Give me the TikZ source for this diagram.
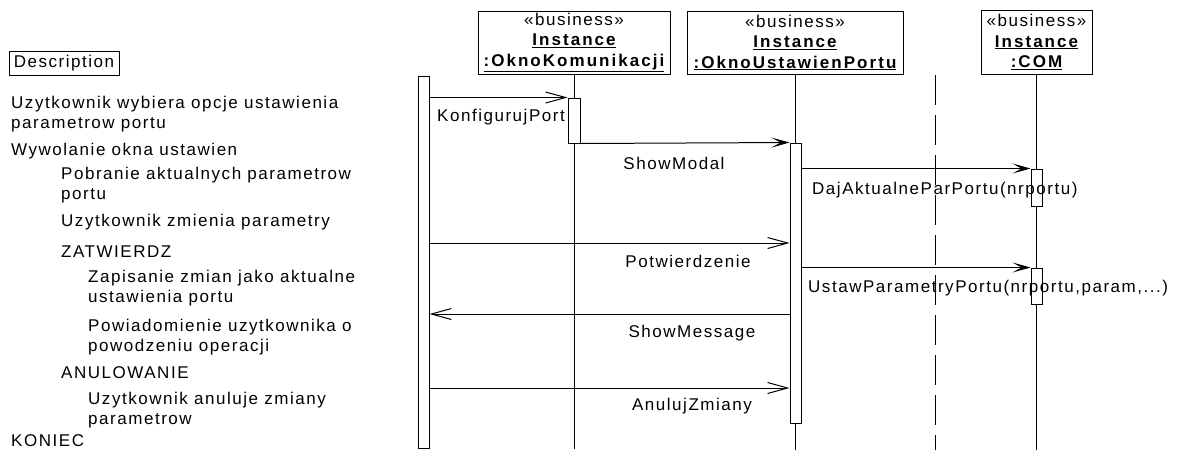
\documentclass[tikz,border=0pt]{standalone}
\usepackage{fontspec}
\setmainfont[LetterSpace=9]{Liberation Sans}
\usetikzlibrary{arrows.meta}
\newcommand{\objname}[1]{{\addfontfeature{LetterSpace=12}\textbf{\underline{#1}}}}

\begin{document}
\begin{tikzpicture}[x=1pt,y=-1pt,
			every node/.style={font=\fontsize{17}{20.5}\selectfont},
			obj/.style={draw,line width=1pt,align=center,inner sep=0pt,minimum height=63pt},
			txt/.style={anchor=west,align=left,inner sep=0pt},
			act/.style={draw,fill=white,line width=1pt,minimum width=11pt,inner sep=0pt},
			life/.style={line width=1pt},
			call/.style={line width=1pt,-{Stealth[length=18pt,width=10pt,inset=9pt]}},
			msg/.style={line width=1pt,-{Straight Barb[length=20pt,width=11pt]}},
			lbl/.style={inner sep=0pt}
			]
			\useasboundingbox (0,0) rectangle (1184,451);
			% description column
			\node[draw,line width=0.8pt,minimum width=110pt,minimum height=24pt,inner sep=0pt] (desc) at (64,63) {Description};
			\node[txt] (t1) at (11,114) {Uzytkownik wybiera opcje ustawienia\\parametrow portu};
			\node[txt] (t2) at (11,151) {Wywolanie okna ustawien};
			\node[txt] (t3) at (61,185) {Pobranie aktualnych parametrow\\portu};
			\node[txt] (t4) at (61,222) {Uzytkownik zmienia parametry};
			\node[txt] (t5) at (61,252) {ZATWIERDZ};
			\node[txt] (t6) at (88,288) {Zapisanie zmian jako aktualne\\ustawienia portu};
			\node[txt] (t7) at (88,337) {Powiadomienie uzytkownika o\\powodzeniu operacji};
			\node[txt] (t8) at (61,373) {ANULOWANIE};
			\node[txt] (t9) at (88,410) {Uzytkownik anuluje zmiany\\parametrow};
			\node[txt] (t10) at (11,441) {KONIEC};
			% objects
			\node[obj,minimum width=192pt] (kom) at (574,42.5) {«business»\\\objname{Instance}\\\objname{:OknoKomunikacji}};
			\node[obj,minimum width=216pt] (ust) at (795,42.5) {«business»\\\objname{Instance}\\\objname{:OknoUstawienPortu}};
			\node[obj,minimum width=111pt,minimum height=64pt] (com) at (1036.5,42) {«business»\\\objname{Instance}\\\objname{:COM}};
			% lifelines
			\draw[life] (kom.south) -- (kom.south |- 0,449);
			\draw[life] (ust.south) -- (ust.south |- 0,450);
			\draw[life] (com.south) -- (com.south |- 0,450);
			\coordinate (septop) at (935,75);
			\coordinate (sepbot) at (935,450);
			\draw[life,dash pattern=on 30pt off 10pt] (septop) -- (sepbot);
			% activations
			\node[act,minimum height=372pt] (a0) at (423.5,262) {};
			\node[act,minimum width=12pt,minimum height=45pt] (a1) at (574,120.5) {};
			\node[act,minimum height=280pt] (a2) at (795.5,283) {};
			\node[act,minimum height=37pt] (a3) at (1036.5,187.5) {};
			\node[act,minimum height=36pt] (a4) at (1036.5,286) {};
			% messages
			\draw[msg] (a0.east |- a1.north) -- (a1.north west);
			\draw[call] (a1.south east) -- (a2.north west);
			\draw[call] (a2.east |- a3.north) -- (a3.north west);
			\draw[msg] (a0.east |- 0,243) -- (a2.west |- 0,243);
			\draw[call] (a2.east |- a4.north) -- (a4.north west);
			\draw[msg] (a2.west |- 0,314) -- (a0.east |- 0,314);
			\draw[msg] (a0.east |- 0,388) -- (a2.west |- 0,388);
			% message labels
			\node[lbl] (lkonf) at (501,117) {KonfigurujPort};
			\node[lbl] (lmodal) at (674,163) {ShowModal};
			\node[lbl,anchor=west] (ldaj) at (812,190) {DajAktualneParPortu(nrportu)};
			\node[lbl] (lpotw) at (688,261) {Potwierdzenie};
			\node[lbl,anchor=west] (lustaw) at (808,288) {UstawParametryPortu(nrportu,param,...)};
			\node[lbl] (lmsg) at (692,333) {ShowMessage};
			\node[lbl] (lanul) at (692,406) {AnulujZmiany};
		\end{tikzpicture}
\end{document}
